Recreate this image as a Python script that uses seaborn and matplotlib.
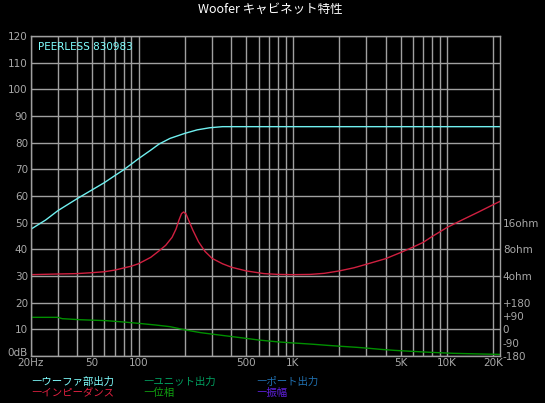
import pandas as pd
import seaborn as sns
import matplotlib.pyplot as plt
import matplotlib.transforms as mtransforms

# --- datos (eje izq. en dB, 0..120) ---
woofer_freq = [20, 25, 30, 40, 50, 60, 70, 80, 90, 100, 120, 136, 160, 200,
               240, 290, 350, 500, 1000, 5000, 22050]
woofer_db = [47.5, 51.0, 54.5, 59.0, 62.3, 65.0, 67.6, 69.8, 72.0, 74.0, 77.2,
             79.5, 81.6, 83.5, 84.8, 85.6, 86.0, 86.0, 86.0, 86.0, 86.0]

# impedancia: 30=4ohm, 40=8ohm, 50=16ohm
imp_freq = [20, 30, 40, 50, 60, 70, 80, 90, 100, 120, 135, 150, 165, 175, 183,
            190, 196, 203, 210, 225, 245, 270, 300, 350, 400, 500, 650, 800, 1000,
            1300, 1600, 2000, 2500, 3000, 4000, 5000, 6000, 7000, 8000, 10000,
            12500, 16000, 20000, 22050]
imp_db = [30.5, 30.75, 30.9, 31.25, 31.6, 32.2, 33.0, 33.7, 34.6, 37.0, 39.3,
          41.5, 44.5, 47.6, 51.0, 53.4, 54.0, 53.3, 51.3, 47.2, 42.8, 39.2, 36.6,
          34.6, 33.3, 31.9, 30.9, 30.6, 30.5, 30.6, 31.0, 31.9, 33.1, 34.4,
          36.5, 38.8, 40.8, 42.6, 44.8, 48.2, 51.0, 54.0, 56.8, 58.0]

# fase: 10 = 0 grados, 20 = +180, 0 = -180
phase_freq = [20, 30, 32, 42, 62, 80, 100, 130, 160, 200, 250, 300, 400, 500,
              600, 800, 1000, 1360, 1670, 2100, 2600, 3100, 3700, 4600, 5900,
              7700, 11000, 16700, 22050]
phase_db = [14.5, 14.5, 14.0, 13.6, 13.25, 12.75, 12.25, 11.6, 11.0, 9.8, 8.8,
            8.2, 7.3, 6.6, 6.0, 5.3, 4.9, 4.4, 4.0, 3.6, 3.25, 2.9, 2.5, 2.1,
            1.75, 1.4, 1.0, 0.75, 0.6]

x_tick_vals = [20, 50, 100, 500, 1000, 5000, 10000, 20000]
x_tick_labels = ["20Hz", "50", "100", "500", "1K", "5K", "10K", "20K"]
y_tick_vals = list(range(0, 121, 10))
y_tick_labels = ["0dB"] + [str(v) for v in range(10, 121, 10)]
right_tick_vals = [0, 5, 10, 15, 20, 30, 40, 50]
right_tick_labels = ["-180", "-90", "0", "+90", "+180", "4ohm", "8ohm", "16ohm"]

legend_names = [["ウーファ部出力", "ユニット出力", "ポート出力"],
                ["インピーダンス", "位相", "振幅"]]
legend_colors = [["#80ffff", "#00a060", "#2070b0"],
                 ["#e02040", "#10a010", "#6020e0"]]

GRID = "#a0a0a0"
TXT = "#a8a8a8"
W, H = 545, 403

sns.set_style("dark", {"axes.facecolor": "black", "figure.facecolor": "black"})
plt.rcParams['font.family'] = ['DejaVu Sans', 'Noto Sans CJK JP']
CJK = ['Noto Sans CJK JP', 'DejaVu Sans']

fig = plt.figure(figsize=(W / 100, H / 100), dpi=100)
left, right, top, bottom = 30.7, 500, 36, 356
ax = fig.add_axes([left / W, 1 - bottom / H, (right - left) / W, (bottom - top) / H])

df_w = pd.DataFrame({"freq": woofer_freq, "level": woofer_db})
df_i = pd.DataFrame({"freq": imp_freq, "level": imp_db})
df_p = pd.DataFrame({"freq": phase_freq, "level": phase_db})

sns.lineplot(data=df_p, x="freq", y="level", ax=ax, color="#009000", linewidth=1, sort=False)
sns.lineplot(data=df_i, x="freq", y="level", ax=ax, color="#d02040", linewidth=1, sort=False)
sns.lineplot(data=df_w, x="freq", y="level", ax=ax, color="#70f0f0", linewidth=1, sort=False)

ax.set_xscale("log")
ax.set_xlim(20, 22050)
ax.set_ylim(0, 120)

# lineas de rejilla en 20,30..90,100,200..
grid_x = [m * 10 ** e for e in range(1, 5) for m in range(1, 10) if 20 <= m * 10 ** e <= 20000]
ax.set_xticks(grid_x)
ax.set_xticklabels([x_tick_labels[x_tick_vals.index(g)] if g in x_tick_vals else "" for g in grid_x])
ax.xaxis.set_minor_locator(plt.NullLocator())
ax.set_yticks(y_tick_vals)
ax.set_yticklabels(y_tick_labels)
ax.grid(True, color=GRID, linewidth=1)
ax.tick_params(axis="both", length=0, colors=TXT, labelsize=7.5)
ax.tick_params(axis="x", pad=1.5)
ax.tick_params(axis="y", pad=2)
ax.set_xlabel("")
ax.set_ylabel("")
for s in ax.spines.values():
    s.set_visible(True)
    s.set_color(GRID)
    s.set_linewidth(1)

# subir un poco "0dB" para que no pise "20Hz"
lbl0 = ax.get_yticklabels()[0]
lbl0.set_transform(lbl0.get_transform() + mtransforms.ScaledTranslation(0, 3.5 / 100, fig.dpi_scale_trans))

ax2 = ax.twinx()
ax2.set_ylim(0, 120)
ax2.set_yticks(right_tick_vals)
ax2.set_yticklabels(right_tick_labels)
ax2.tick_params(axis="y", length=0, colors=TXT, labelsize=7.5, pad=2)
ax2.grid(False)
for s in ax2.spines.values():
    s.set_visible(False)

ax.text((38 - left) / (right - left), 1 - (47 - top) / (bottom - top),
        "PEERLESS 830983", transform=ax.transAxes, color="#80ffff",
        fontsize=7.5, va="center", ha="left")

fig.text(270 / W, 1 - 9 / H, "Woofer キャビネット特性", color="white",
         fontsize=9, ha="center", va="center", family=CJK)

leg_x = [31, 143, 256]
leg_y = [381.5, 393]
for r in range(2):
    for c in range(3):
        fig.text(leg_x[c] / W, 1 - leg_y[r] / H, "―" + legend_names[r][c],
                 color=legend_colors[r][c], fontsize=7.5, ha="left", va="center",
                 family=CJK)

fig.savefig("out.png", dpi=100, facecolor="black")
